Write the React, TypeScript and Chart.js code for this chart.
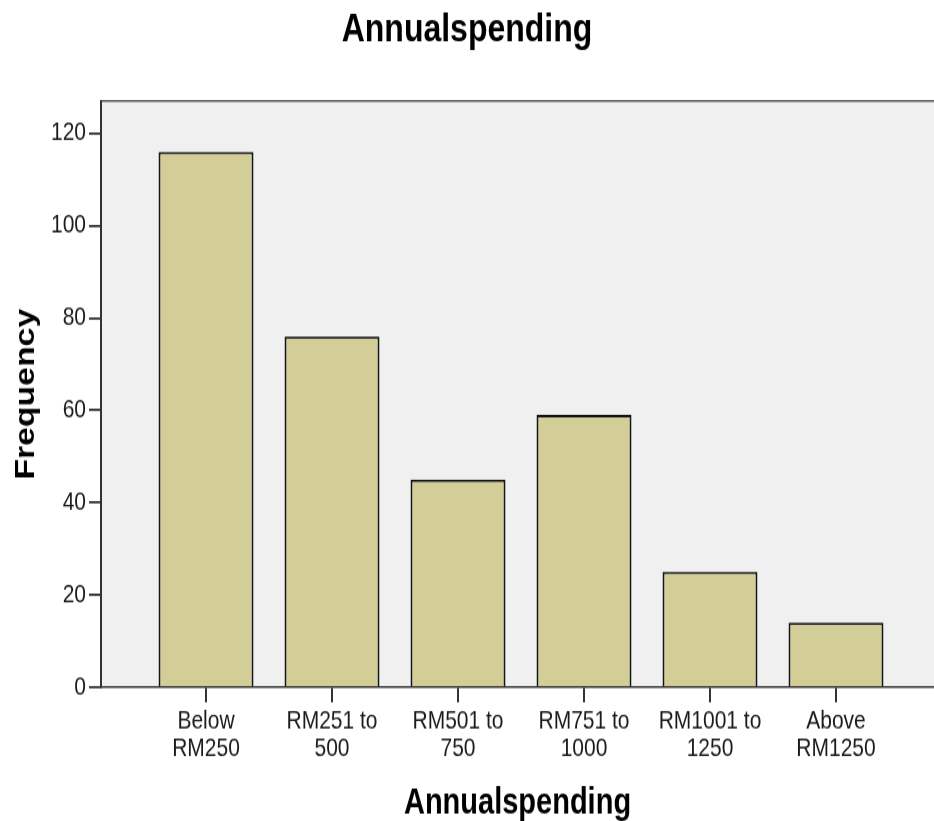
import { useEffect, useRef } from "react";
import { Chart, registerables } from "chart.js";

Chart.register(...registerables);

// ---- data ----
const categories: string[][] = [
  ["Below", "RM250"],
  ["RM251 to", "500"],
  ["RM501 to", "750"],
  ["RM751 to", "1000"],
  ["RM1001 to", "1250"],
  ["Above", "RM1250"],
];
const frequencies: number[] = [116, 76, 45, 59, 25, 14];
const yTickValues: number[] = [0, 20, 40, 60, 80, 100, 120];
const chartTitle = "Annualspending";
const xAxisTitle = "Annualspending";
const yAxisTitle = "Frequency";

const FONT = '"Liberation Sans", Arial, Helvetica, sans-serif';
const CANVAS_W = 934;
const CANVAS_H = 657; // drawn, then stretched vertically to 821 like the source image

const plotFrame = {
  id: "plotFrame",
  beforeDraw(chart: any) {
    const { ctx, chartArea } = chart;
    const { left, top, right, bottom } = chartArea;
    ctx.save();
    ctx.fillStyle = "#f0f0f0";
    ctx.fillRect(left, top, right - left, bottom - top);
    ctx.strokeStyle = "#555555";
    ctx.lineWidth = 1.6;
    ctx.beginPath();
    ctx.moveTo(left, top);
    ctx.lineTo(right, top);
    ctx.stroke();
    ctx.restore();
  },
};

export default function App() {
  const canvasRef = useRef<HTMLCanvasElement | null>(null);

  useEffect(() => {
    document.body.style.margin = "0";
    document.body.style.overflow = "hidden";
    const canvas = canvasRef.current;
    if (!canvas) return;
    const chart = new Chart(canvas, {
      type: "bar",
      data: {
        datasets: [
          {
            label: yAxisTitle,
            data: frequencies.map((v, i) => ({ x: i, y: v })),
            backgroundColor: "#d3ce97",
            borderColor: "#151515",
            borderWidth: 2,
            borderSkipped: "start",
            barPercentage: 0.754,
            categoryPercentage: 1,
          },
        ],
      },
      options: {
        animation: false,
        responsive: false,
        devicePixelRatio: 1,
        layout: { padding: 0 },
        plugins: {
          legend: { display: false },
          tooltip: { enabled: false },
          title: {
            display: true,
            text: chartTitle,
            color: "#000",
            font: { family: FONT, size: 32, weight: "bold", lineHeight: 1.2 },
            padding: { top: 5, bottom: 37.4 },
          },
        },
        scales: {
          x: {
            type: "linear",
            offset: false,
            min: -0.8333,
            max: 5.7778,
            afterBuildTicks: (scale: any) => {
              scale.ticks = categories.map((_, i) => ({ value: i }));
            },
            ticks: {
              autoSkip: false,
              maxRotation: 0,
              minRotation: 0,
              padding: 4.4,
              color: "#1a1a1a",
              font: { family: FONT, size: 21, lineHeight: 1.03 },
              callback: (v: any) => categories[v as number] ?? "",
            },
            grid: {
              display: true,
              offset: false,
              drawOnChartArea: false,
              drawTicks: true,
              tickLength: 12,
              tickColor: "#333",
              lineWidth: 2,
              color: "#333",
            },
            border: { display: true, color: "#333", width: 1.6, z: 1 },
            title: {
              display: true,
              text: xAxisTitle,
              color: "#000",
              font: { family: FONT, size: 29, weight: "bold", lineHeight: 1 },
              padding: { top: 14, bottom: 0 },
            },
          },
          y: {
            type: "linear",
            min: 0,
            max: 127,
            afterBuildTicks: (scale: any) => {
              scale.ticks = yTickValues.map((v) => ({ value: v }));
            },
            ticks: {
              padding: 3,
              color: "#1a1a1a",
              font: { family: FONT, size: 21, lineHeight: 1.1 },
            },
            grid: {
              display: true,
              drawOnChartArea: false,
              drawTicks: true,
              tickLength: 12,
              tickColor: "#333",
              lineWidth: 1.8,
              color: "#333",
            },
            border: { display: true, color: "#333", width: 2, z: 1 },
            title: {
              display: true,
              text: yAxisTitle,
              color: "#000",
              font: { family: FONT, size: 27, weight: "bold", lineHeight: 1 },
              padding: { top: 13.5, bottom: 7.5 },
            },
          },
        },
      },
      plugins: [plotFrame],
    } as any);
    return () => chart.destroy();
  }, []);

  return (
    <div
      style={{
        position: "absolute",
        left: 0,
        top: 0,
        width: 934,
        height: 821,
        overflow: "hidden",
        background: "#fff",
      }}
    >
      <canvas
        ref={canvasRef}
        width={CANVAS_W}
        height={CANVAS_H}
        style={{ width: "934px", height: "821px", display: "block" }}
      />
    </div>
  );
}
